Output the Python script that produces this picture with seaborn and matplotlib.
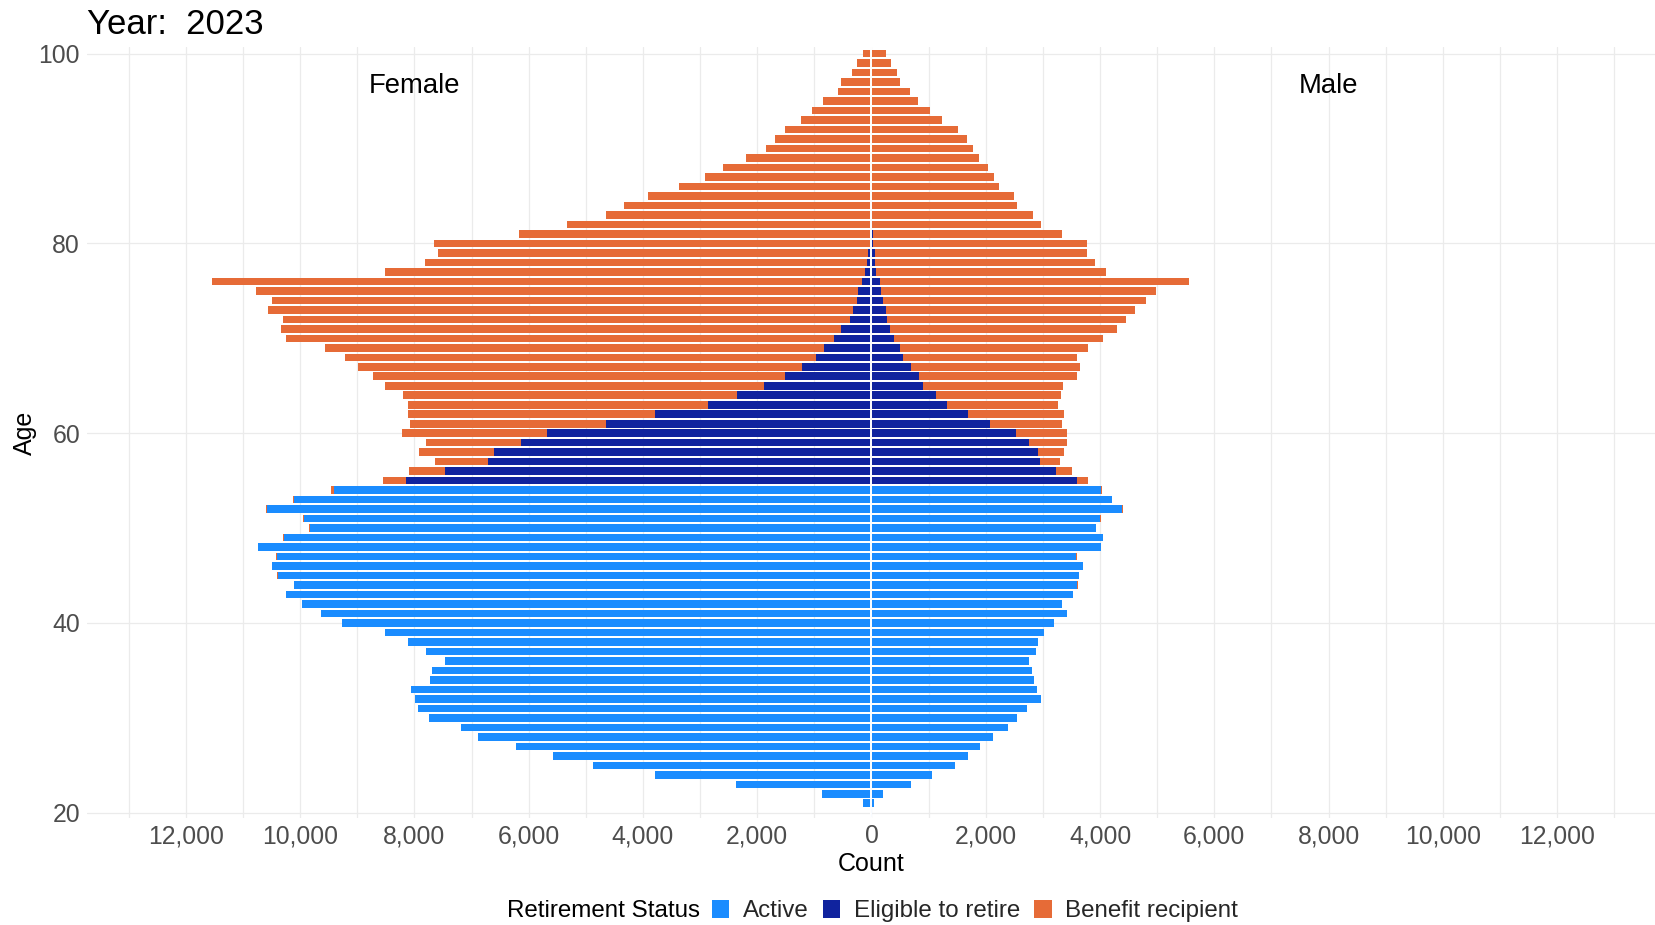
import pandas as pd
import matplotlib
matplotlib.use("Agg")
import matplotlib.pyplot as plt
import seaborn as sns
from matplotlib.patches import Patch
from matplotlib.ticker import FuncFormatter, MultipleLocator

# ages 20 .. 100, one value per age in every list below
AGES = list(range(20, 101))

FEMALE_ACTIVE = [
    15, 147, 864, 2377, 3781, 4869, 5579, 6227, 6883, 7184,        # 20-29
    7747, 7940, 7986, 8063, 7731, 7693, 7469, 7801, 8110, 8511,    # 30-39
    9259, 9630, 9961, 10239, 10100, 10386, 10494, 10401, 10733, 10286,  # 40-49
    9823, 9931, 10571, 10108, 9406, 0, 0, 0, 0, 0,                 # 50-59
    0, 0, 0, 0, 0, 0, 0, 0, 0, 0,                                  # 60-69
    0, 0, 0, 0, 0, 0, 0, 0, 0, 0,                                  # 70-79
    0, 0, 0, 0, 0, 0, 0, 0, 0, 0,                                  # 80-89
    0, 0, 0, 0, 0, 0, 0, 0, 0, 0,                                  # 90-99
    0,                                                             # 100
]
FEMALE_ELIGIBLE = [
    0, 0, 0, 0, 0, 0, 0, 0, 0, 0,
    0, 0, 0, 0, 0, 0, 0, 0, 0, 0,
    0, 0, 0, 0, 0, 0, 0, 0, 0, 0,
    0, 0, 0, 0, 0, 8148, 7461, 6705, 6605, 6142,
    5687, 4645, 3796, 2870, 2346, 1875, 1512, 1211, 972, 833,
    656, 532, 378, 332, 255, 239, 162, 108, 77, 62,
    25, 20, 15, 10, 0, 0, 0, 0, 0, 0,
    0, 0, 0, 0, 0, 0, 0, 0, 0, 0,
    0,
]
FEMALE_BENEFIT = [
    0, 0, 0, 0, 0, 0, 0, 0, 0, 0,
    0, 0, 0, 0, 0, 0, 0, 0, 0, 0,
    0, 0, 0, 0, 0, 15, 0, 23, 0, 15,
    23, 23, 31, 23, 54, 409, 625, 934, 1319, 1659,
    2523, 3426, 4314, 5240, 5848, 6636, 7207, 7770, 8249, 8735,
    9583, 9807, 9923, 10224, 10239, 10525, 11389, 8403, 7739, 7523,
    7629, 6153, 5309, 4635, 4329, 3912, 3372, 2917, 2600, 2191,
    1844, 1682, 1520, 1242, 1042, 849, 594, 540, 347, 255,
    147,
]

MALE_ACTIVE = [
    10, 47, 204, 700, 1067, 1458, 1685, 1907, 2122, 2391,
    2554, 2723, 2968, 2904, 2846, 2811, 2752, 2875, 2921, 3015,
    3195, 3417, 3329, 3534, 3603, 3627, 3703, 3587, 4018, 4053,
    3930, 4006, 4385, 4204, 4023, 0, 0, 0, 0, 0,
    0, 0, 0, 0, 0, 0, 0, 0, 0, 0,
    0, 0, 0, 0, 0, 0, 0, 0, 0, 0,
    0, 0, 0, 0, 0, 0, 0, 0, 0, 0,
    0, 0, 0, 0, 0, 0, 0, 0, 0, 0,
    0,
]
MALE_ELIGIBLE = [
    0, 0, 0, 0, 0, 0, 0, 0, 0, 0,
    0, 0, 0, 0, 0, 0, 0, 0, 0, 0,
    0, 0, 0, 0, 0, 0, 0, 0, 0, 0,
    0, 0, 0, 0, 0, 3604, 3236, 2950, 2921, 2758,
    2531, 2076, 1685, 1324, 1125, 904, 828, 688, 554, 496,
    402, 327, 268, 251, 204, 163, 146, 87, 58, 58,
    35, 25, 15, 10, 0, 0, 0, 0, 0, 0,
    0, 0, 0, 0, 0, 0, 0, 0, 0, 0,
    0,
]
MALE_BENEFIT = [
    0, 0, 0, 0, 0, 0, 0, 0, 0, 0,
    0, 0, 0, 0, 0, 0, 0, 0, 0, 0,
    0, 0, 0, 0, 12, 0, 0, 17, 0, 0,
    0, 12, 17, 12, 12, 186, 268, 344, 449, 659,
    898, 1265, 1685, 1941, 2199, 2449, 2770, 2968, 3044, 3294,
    3651, 3965, 4187, 4355, 4601, 4822, 5417, 4012, 3855, 3709,
    3732, 3316, 2947, 2818, 2542, 2496, 2227, 2152, 2041, 1878,
    1773, 1679, 1510, 1230, 1032, 810, 671, 501, 443, 338,
    262,
]

STATUS = ["Active", "Eligible to retire", "Benefit recipient"]
COLORS = ["#1a8cff", "#10239e", "#e66b37"]


def main():
    sns.set_theme(style="white")
    plt.rcParams["font.family"] = ["Liberation Sans", "DejaVu Sans"]

    df = pd.DataFrame({
        "age": AGES,
        "f_a": FEMALE_ACTIVE, "f_e": FEMALE_ELIGIBLE, "f_b": FEMALE_BENEFIT,
        "m_a": MALE_ACTIVE, "m_e": MALE_ELIGIBLE, "m_b": MALE_BENEFIT,
    })

    # cumulative stacks, females negative so they go left
    df["f_1"] = -df["f_a"]
    df["f_2"] = -(df["f_a"] + df["f_e"])
    df["f_3"] = -(df["f_a"] + df["f_e"] + df["f_b"])
    df["m_1"] = df["m_a"]
    df["m_2"] = df["m_a"] + df["m_e"]
    df["m_3"] = df["m_a"] + df["m_e"] + df["m_b"]

    fig = plt.figure(figsize=(16.56, 9.25), dpi=100)
    ax = fig.add_axes([87 / 1656, 1 - 818 / 925, 1 - 87 / 1656, (818 - 47) / 925])

    # outermost first, inner segments drawn on top
    for col, color in [("3", COLORS[2]), ("2", COLORS[1]), ("1", COLORS[0])]:
        for sex in ["f", "m"]:
            sns.barplot(data=df, x=f"{sex}_{col}", y="age", orient="y",
                        native_scale=True, color=color, saturation=1,
                        width=0.8, linewidth=0, errorbar=None, ax=ax)

    ax.axvline(0, color="white", lw=1.4, zorder=5)

    ax.set_xlim(-13730, 13730)
    ax.set_ylim(19.45, 100.7)
    ax.set_xticks(range(-12000, 12001, 2000))
    ax.xaxis.set_minor_locator(MultipleLocator(1000))
    ax.xaxis.set_major_formatter(FuncFormatter(lambda v, p: f"{abs(int(v)):,}"))
    ax.set_yticks([20, 40, 60, 80, 100])

    ax.set_axisbelow(True)
    ax.grid(axis="x", which="both", color="#ebebeb", lw=0.9)
    ax.grid(axis="y", which="major", color="#ebebeb", lw=0.9)
    for s in ax.spines.values():
        s.set_visible(False)
    ax.tick_params(axis="both", which="both", length=0, labelsize=17.8,
                   labelcolor="#4d4d4d")
    ax.tick_params(axis="x", pad=4.5)
    ax.tick_params(axis="y", pad=5)

    ax.set_xlabel("Count", fontsize=18, labelpad=3, color="black")
    ax.set_ylabel("Age", fontsize=18, labelpad=1, color="black")

    ax.text(-8000, 96.6, "Female", ha="center", va="center", fontsize=19.8, color="black")
    ax.text(8000, 96.6, "Male", ha="center", va="center", fontsize=19.8, color="black")

    fig.text(87 / 1656, 1 - 25 / 925, "Year:  2023", fontsize=25,
             ha="left", va="center", color="black")

    # legend with the title on the left
    fig.text(700 / 1656, 1 - 911 / 925, "Retirement Status", fontsize=17.4,
             ha="right", va="center", color="black")
    handles = [Patch(facecolor=c, edgecolor="none") for c in COLORS]
    fig.legend(handles, STATUS, loc="center left",
               bbox_to_anchor=(712 / 1656, 1 - 911 / 925), ncol=3,
               frameon=False, fontsize=17.4, handlelength=0.72, handleheight=0.75,
               handletextpad=0.55, columnspacing=0.6, borderpad=0,
               borderaxespad=0)

    fig.savefig("out.png", dpi=100)


if __name__ == "__main__":
    main()
